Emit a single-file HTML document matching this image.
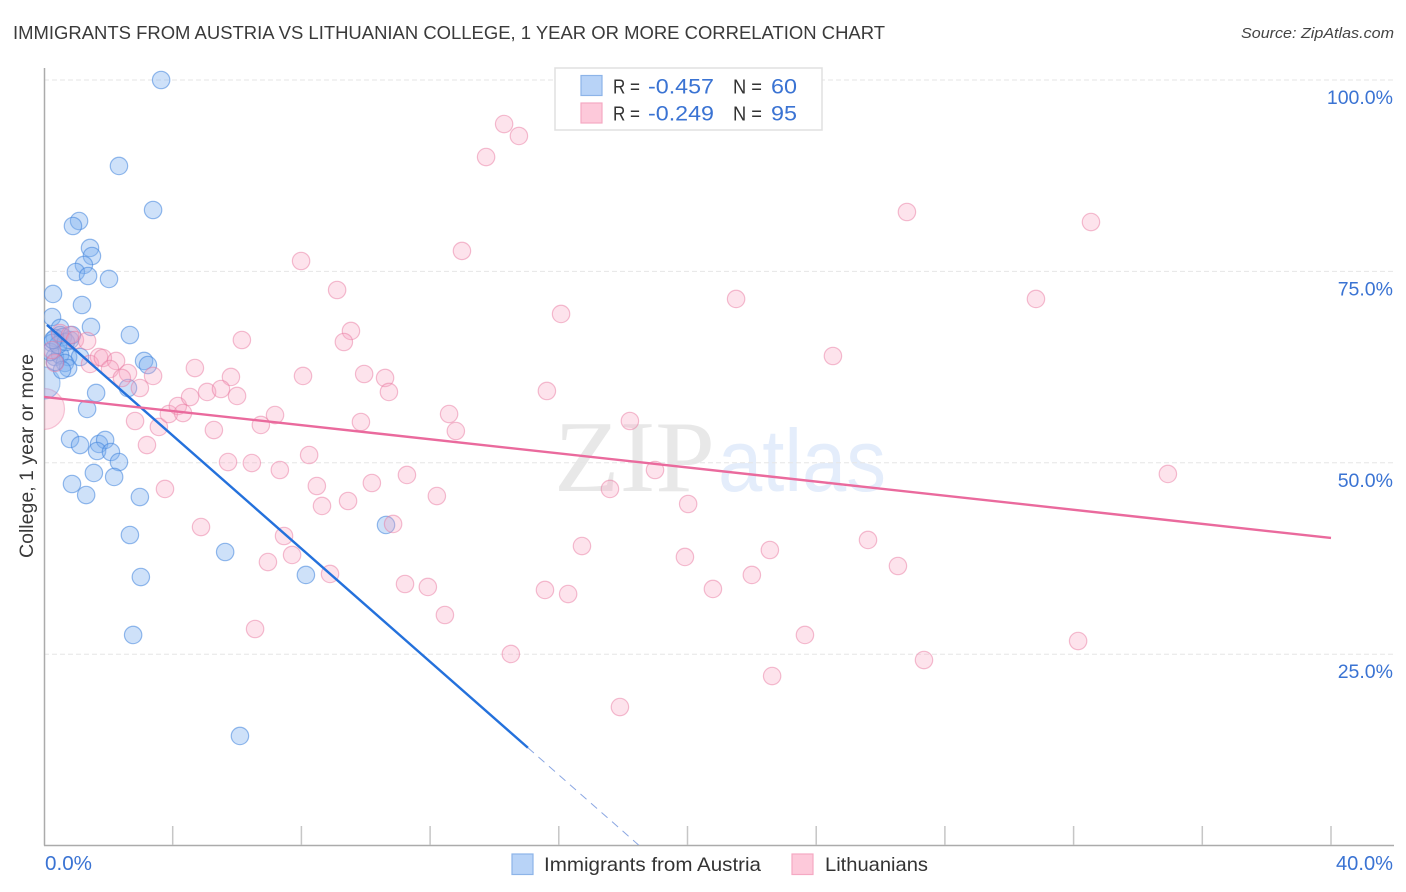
<!DOCTYPE html>
<html lang="en">
<head>
<meta charset="utf-8">
<title>Immigrants from Austria vs Lithuanian College, 1 year or more Correlation Chart</title>
<style>
html,body{margin:0;padding:0;background:#fff;}
body{width:1406px;height:892px;overflow:hidden;font-family:"Liberation Sans",sans-serif;}
svg{display:block;}
text{font-family:"Liberation Sans",sans-serif;}
</style>
</head>
<body>
<svg id="chart" xmlns="http://www.w3.org/2000/svg" width="1406" height="892" viewBox="0 0 1406 892">
  <defs><clipPath id="plot-clip"><rect x="44" y="60" width="1350" height="785"/></clipPath></defs>
  <text x="13" y="39" font-size="18.5" fill="#3a3a3a" textLength="872" lengthAdjust="spacingAndGlyphs">IMMIGRANTS FROM AUSTRIA VS LITHUANIAN COLLEGE, 1 YEAR OR MORE CORRELATION CHART</text>
  <text x="1394" y="38" font-size="15" font-style="italic" fill="#444" text-anchor="end" textLength="153" lengthAdjust="spacingAndGlyphs">Source: ZipAtlas.com</text>
  <g>
    <text x="554" y="491" font-size="102" fill="#e8e8e8" style="font-family:'Liberation Serif',serif" textLength="161" lengthAdjust="spacingAndGlyphs">ZIP</text>
    <text x="718" y="491" font-size="88" fill="#e4edfb" textLength="168" lengthAdjust="spacingAndGlyphs">atlas</text>
  </g>
  <g id="grid"></g>
  <g id="axes"></g>
  <g id="points" clip-path="url(#plot-clip)"></g>
  <g id="trends" clip-path="url(#plot-clip)"></g>
  <text transform="translate(33,558) rotate(-90)" font-size="19" fill="#3a3a3a" textLength="204" lengthAdjust="spacingAndGlyphs">College, 1 year or more</text>
  <g>
    <rect x="555" y="68" width="267" height="62" fill="#fff" stroke="#e0e0e0" stroke-width="1.5"/>
    <rect x="581" y="75.500" width="21" height="20" fill="#b8d3f7" stroke="#8db4e8" stroke-width="1.2"/>
    <rect x="581" y="103" width="21" height="20" fill="#fdc9da" stroke="#f5a9c3" stroke-width="1.2"/>
    <text x="613" y="93.500" font-size="20.500" fill="#333" textLength="27" lengthAdjust="spacingAndGlyphs">R =</text>
    <text x="648" y="93.500" font-size="21.500" fill="#3a73d3" textLength="66" lengthAdjust="spacingAndGlyphs">-0.457</text>
    <text x="733" y="93.500" font-size="20.500" fill="#333" textLength="29" lengthAdjust="spacingAndGlyphs">N =</text>
    <text x="771" y="93.500" font-size="21.500" fill="#3a73d3" textLength="26" lengthAdjust="spacingAndGlyphs">60</text>
    <text x="613" y="120.500" font-size="20.500" fill="#333" textLength="27" lengthAdjust="spacingAndGlyphs">R =</text>
    <text x="648" y="120.500" font-size="21.500" fill="#3a73d3" textLength="66" lengthAdjust="spacingAndGlyphs">-0.249</text>
    <text x="733" y="120.500" font-size="20.500" fill="#333" textLength="29" lengthAdjust="spacingAndGlyphs">N =</text>
    <text x="771" y="120.500" font-size="21.500" fill="#3a73d3" textLength="26" lengthAdjust="spacingAndGlyphs">95</text>
  </g>
  <g>
    <rect x="512" y="854" width="21" height="20.500" fill="#b8d3f7" stroke="#8db4e8" stroke-width="1.2"/>
    <text x="544" y="871" font-size="19.500" fill="#333" textLength="217" lengthAdjust="spacingAndGlyphs">Immigrants from Austria</text>
    <rect x="792" y="854" width="21" height="20.500" fill="#fdc9da" stroke="#f5a9c3" stroke-width="1.2"/>
    <text x="825" y="871" font-size="19.500" fill="#333" textLength="103" lengthAdjust="spacingAndGlyphs">Lithuanians</text>
  </g>
</svg>
<script>
var xTicks = [0, 4, 8, 12, 16, 20, 24, 28, 32, 36, 40];
var yTicks = [25, 50, 75, 100];
var yTickLabels = ['25.0%', '50.0%', '75.0%', '100.0%'];
var xEdgeTicks = [0, 40];
var xEdgeLabels = ['0.0%', '40.0%'];

var austriaX = [3.64,2.33,3.39,1.09,0.90,1.43,1.49,1.24,0.99,1.37,2.02,0.28,1.18,0.25,1.46,2.67,3.11,3.23,1.62,1.34,2.61,0.81,1.12,1.71,1.90,1.65,2.08,2.33,1.55,2.18,0.87,1.31,2.98,2.67,3.01,2.77,5.63,8.14,10.63,6.09,0.50,0.50,0.34,0.59,0.81,0.25,0.75,1.12,0.34,0.50,0.65,0.75,0.56,0.34,0.19,0.44,0.68,0.28,0.87];
var austriaY = [100.0,88.77,83.02,81.58,80.93,78.06,77.01,75.84,74.92,74.40,74.01,72.05,70.61,69.04,67.74,66.69,63.30,62.77,59.12,57.03,59.77,53.11,52.32,52.46,52.98,51.54,51.41,50.10,48.67,48.15,47.23,45.79,45.53,40.57,35.08,27.51,38.35,35.35,41.88,14.32,67.61,66.69,66.30,66.43,66.04,65.65,63.82,63.82,63.82,64.08,63.04,62.38,62.12,63.17,64.47,65.39,65.78,66.04,66.69];
var austriaBigX = [0];
var austriaBigY = [60.42];

var lithuanianX = [14.30,14.76,13.74,26.82,32.54,12.99,7.99,9.11,21.51,30.83,16.07,9.54,9.32,6.15,24.52,4.69,9.95,10.60,8.05,10.72,15.63,5.81,6.00,7.18,9.85,12.59,12.80,6.74,5.28,18.21,5.72,6.46,7.33,8.24,10.19,11.28,18.99,34.93,8.48,8.64,9.45,12.21,17.59,20.02,4.88,7.46,10.85,16.72,25.61,22.56,7.71,6.96,19.92,26.54,22.00,8.89,11.22,11.93,15.57,16.29,20.79,12.46,6.56,23.65,14.51,32.14,27.35,22.63,17.90,3.76,1.43,1.71,1.83,2.24,2.05,2.61,2.42,3.39,2.98,2.83,3.57,3.20,3.88,4.16,4.32,4.54,5.07,5.50,0.50,0.81,0.96,1.34,0.34,0.25];
var lithuanianY = [94.25,92.69,89.94,82.76,81.45,77.67,76.36,72.57,71.40,71.40,69.44,67.22,65.78,66.04,63.95,62.38,61.60,61.08,61.34,59.25,59.38,61.21,58.73,56.24,55.33,56.37,54.15,54.94,54.28,55.46,50.10,49.97,49.06,51.02,47.36,48.41,49.06,48.54,46.97,44.36,45.01,45.66,46.58,44.62,41.61,40.44,42.01,39.13,39.92,38.61,37.96,37.04,37.70,36.52,35.35,35.48,34.17,33.78,33.39,32.86,33.52,30.12,28.29,27.51,25.03,26.72,24.24,22.15,18.10,46.58,62.91,63.82,63.69,63.30,62.25,61.73,61.08,61.34,59.77,55.46,54.68,52.32,56.37,57.42,56.50,58.59,59.25,59.64,66.95,66.69,66.04,65.91,63.04,64.73];
var lithuanianBigX = [0];
var lithuanianBigY = [57.03];

var austriaTrendIntercept = 68.34;
var austriaTrendSlope = -3.694;
var austriaTrendStartX = 0.09;
var austriaSolidEndX = 15.04;
var austriaDashedEndX = 18.5;
var lithuanianTrendIntercept = 58.6;
var lithuanianTrendSlope = -0.4605;
var lithuanianTrendEndX = 40;

var NS = 'http://www.w3.org/2000/svg';
function xScale(v) { return 44 + v * 32.175; }
function yScale(v) { return 845.6 - v * 7.656; }
function make(tag, attrs, parent) {
  var el = document.createElementNS(NS, tag);
  for (var k in attrs) { el.setAttribute(k, attrs[k]); }
  parent.appendChild(el);
  return el;
}
var gridG = document.getElementById('grid');
var axesG = document.getElementById('axes');
var pointsG = document.getElementById('points');
var trendsG = document.getElementById('trends');

yTicks.forEach(function (t, i) {
  var line = make('line', {x1: 44, x2: 1394, y1: yScale(t), y2: yScale(t), stroke: '#e6e6e6', 'stroke-width': 1, 'stroke-dasharray': '5 3'}, gridG);
  
  
  var label = make('text', {x: 1393, y: yScale(t) + 24, 'font-size': 19.5, fill: '#3a73d3', 'text-anchor': 'end'}, axesG);
  
  
  label.textContent = yTickLabels[i];
});

var yAxis = make('line', {x1: 44.5, x2: 44.5, y1: 68, y2: 845.5, stroke: '#ababab', 'stroke-width': 1.5}, axesG);


var xAxis = make('line', {x1: 44, x2: 1394, y1: 845.5, y2: 845.5, stroke: '#ababab', 'stroke-width': 1.5}, axesG);



xTicks.forEach(function (t) {
  if (t === 0) { return; }
  var tick = make('line', {x1: xScale(t), x2: xScale(t), y1: 826, y2: 845, stroke: '#c6c6c6', 'stroke-width': 1.5}, axesG);
  
  
});

xEdgeTicks.forEach(function (t, i) {
  var label = make('text', {x: i === 0 ? xScale(t) + 1 : xScale(t) + 62, y: 870, 'font-size': 20, fill: '#3a73d3', 'text-anchor': i === 0 ? 'start' : 'end', textLength: i === 0 ? 47 : 57, lengthAdjust: 'spacingAndGlyphs'}, axesG);
  
  
  label.textContent = xEdgeLabels[i];
});

function drawSeries(xs, ys, r, fill, fillOpacity, stroke, strokeOpacity, name) {
  xs.forEach(function (x, i) {
    var c = make('circle', {cx: xScale(x), cy: yScale(ys[i]), r: r, fill: fill, 'fill-opacity': fillOpacity, stroke: stroke, 'stroke-opacity': strokeOpacity, 'stroke-width': 1.2}, pointsG);
    
    
  });
}
drawSeries(lithuanianBigX, lithuanianBigY, 20.5, '#f7a3c0', 0.3, '#e8779f', 0.4, 'lithuanian-large-point');
drawSeries(austriaBigX, austriaBigY, 16, '#7fb0ee', 0.38, '#4d8de0', 0.45, 'austria-large-point');
drawSeries(austriaX, austriaY, 8.7, '#7fb0ee', 0.38, '#3f84dd', 0.55, 'austria-point');
drawSeries(lithuanianX, lithuanianY, 8.7, '#f7a3c0', 0.3, '#e8779f', 0.48, 'lithuanian-point');

var austriaSolid = make('line', {x1: xScale(austriaTrendStartX), y1: yScale(austriaTrendIntercept + austriaTrendSlope * austriaTrendStartX), x2: xScale(austriaSolidEndX), y2: yScale(austriaTrendIntercept + austriaTrendSlope * austriaSolidEndX), stroke: '#2471dc', 'stroke-width': 2.4}, trendsG);


var austriaDashed = make('line', {x1: xScale(austriaSolidEndX), y1: yScale(austriaTrendIntercept + austriaTrendSlope * austriaSolidEndX), x2: xScale(austriaDashedEndX), y2: yScale(austriaTrendIntercept + austriaTrendSlope * austriaDashedEndX), stroke: '#8aa6e2', 'stroke-width': 1, 'stroke-dasharray': '8 6'}, trendsG);


var lithuanianTrend = make('line', {x1: xScale(0), y1: yScale(lithuanianTrendIntercept), x2: xScale(lithuanianTrendEndX), y2: yScale(lithuanianTrendIntercept + lithuanianTrendSlope * lithuanianTrendEndX), stroke: '#ea6a9d', 'stroke-width': 2.4}, trendsG);


</script>
</body>
</html>
